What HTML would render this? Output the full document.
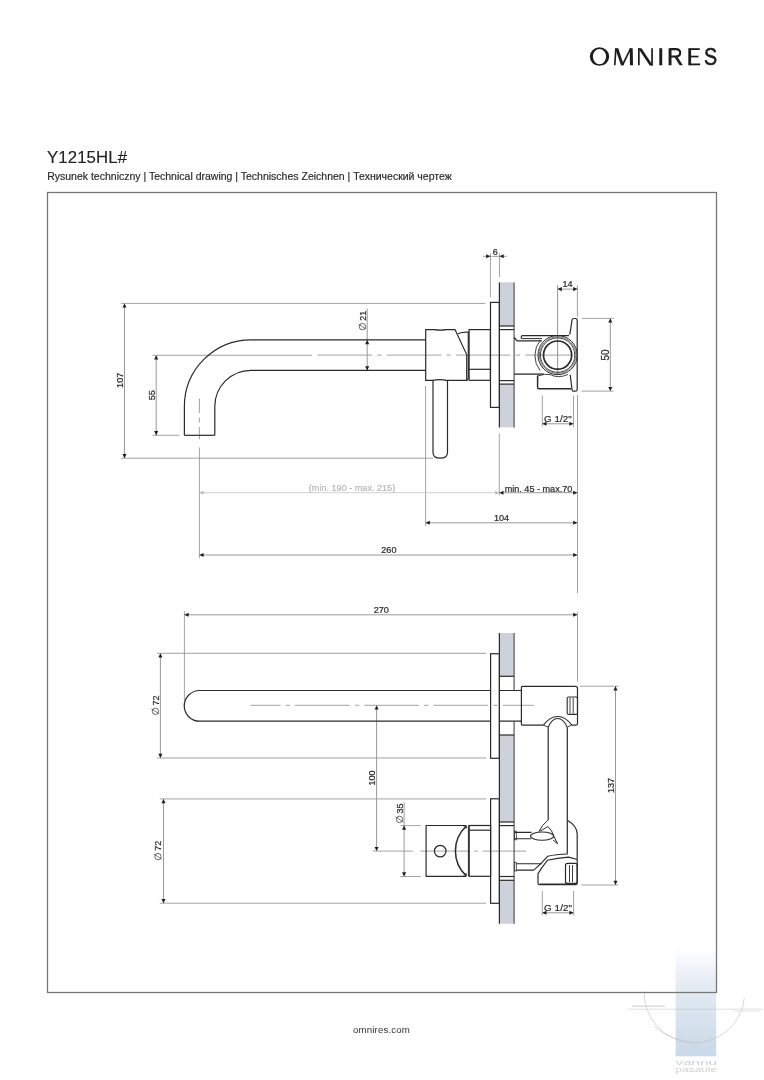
<!DOCTYPE html>
<html><head><meta charset="utf-8"><style>
html,body{margin:0;padding:0;background:#fff;}
body{width:764px;height:1080px;position:relative;overflow:hidden;font-family:"Liberation Sans", sans-serif;}
svg{position:absolute;left:0;top:0;will-change:transform;}
</style></head><body>
<svg width="764" height="1080" viewBox="0 0 764 1080" font-family='"Liberation Sans", sans-serif'>
<defs>
<linearGradient id="wm" x1="0" y1="0" x2="0" y2="1">
<stop offset="0" stop-color="#ffffff"/><stop offset="0.3" stop-color="#e6edf4"/><stop offset="1" stop-color="#c8d8e7"/>
</linearGradient>
</defs>
<!-- watermark -->
<rect x="675.6" y="948" width="40.6" height="108.3" fill="url(#wm)"/>
<path d="M644.1,991.3 A50.3,50.3 0 0 0 744.4,997.9" fill="none" stroke="#bdbdbd" stroke-width="0.6"/>
<path d="M653.9,1026.2 Q672,1042 700,1043" fill="none" stroke="#c4c4c4" stroke-width="0.6"/>
<line x1="627.5" y1="1009.2" x2="763" y2="1009.2" stroke="#c8c8c8" stroke-width="0.6"/>
<line x1="632" y1="1006.1" x2="665" y2="1006.1" stroke="#c4c4c4" stroke-width="0.9"/>
<line x1="733" y1="1011.1" x2="760" y2="1011.1" stroke="#cfcfcf" stroke-width="0.6"/>
<text x="675.6" y="1065" font-size="6.8" fill="#d0d0d0" textLength="41.4" lengthAdjust="spacingAndGlyphs">vannu</text>
<text x="675.6" y="1071.6" font-size="7.6" fill="#d0d0d0" textLength="41.4" lengthAdjust="spacingAndGlyphs">pasaule</text>
<!-- header -->
<g fill="#1c1c1c">
<path fill-rule="evenodd" d="M589.8,56.6 A9.7,9.25 0 1 0 609.2,56.6 A9.7,9.25 0 1 0 589.8,56.6 Z M592.9,56.6 A6.6,7.7 0 1 1 606.1,56.6 A6.6,7.7 0 1 1 592.9,56.6 Z"/>
<polygon points="613.9,65.3 615.6,65.3 616.7,48.3 615.1,48.3"/>
<polygon points="615.1,48.3 618.3,48.3 623.8,65.3 621,65.3"/>
<polygon points="621.4,65.3 623.4,65.3 631.6,48.3 629.9,48.3"/>
<polygon points="629.7,48.3 632.7,48.3 633,65.3 630,65.3"/>
<polygon points="638,48.3 639.7,48.3 639.7,65.3 638,65.3"/>
<polygon points="638.2,48.3 641.5,48.3 652.9,65.4 649.7,65.4"/>
<polygon points="651.2,48.3 652.9,48.3 652.9,65.4 651.2,65.4"/>
<rect x="659.3" y="48.2" width="2.9" height="17.1"/>
<rect x="668.6" y="48.2" width="2.9" height="17.1"/>
<polygon points="674,56.3 677.1,56.3 682.8,65.3 679.6,65.3"/>
<rect x="688.3" y="48.2" width="2.8" height="17.1"/>
<rect x="690.6" y="48.2" width="9.2" height="1.8"/>
<rect x="690.6" y="55.7" width="7.9" height="1.7"/>
<rect x="690.6" y="63.5" width="9.6" height="1.8"/>
</g>
<path d="M671,49.1 H675.6 Q680.2,49.1 680.2,52.75 Q680.2,56.5 675.6,56.5 H671" fill="none" stroke="#1c1c1c" stroke-width="2.1"/>
<text x="0" y="0" font-size="24.6" fill="#1c1c1c" stroke="#1c1c1c" stroke-width="0.6" transform="translate(703.9 65.4) scale(0.8 1)">S</text>
<text x="47" y="162.7" font-size="16.8" fill="#222" letter-spacing="0.1" stroke="#222" stroke-width="0.15">Y1215HL#</text>
<text x="47.2" y="179.6" font-size="10.5" fill="#2a2a2a" stroke="#2a2a2a" stroke-width="0.18">Rysunek techniczny | Technical drawing | Technisches Zeichnen | Технический чертеж</text>
<rect x="47.5" y="192.5" width="669" height="800" fill="none" stroke="#777" stroke-width="1.3"/>
<text x="381.5" y="1033.1" font-size="9.7" fill="#333" text-anchor="middle" letter-spacing="0.12">omnires.com</text>
<line x1="121" y1="303.4" x2="485.4" y2="303.4" stroke="#8c8c8c" stroke-width="0.8"/>
<line x1="121" y1="458.2" x2="433" y2="458.2" stroke="#8c8c8c" stroke-width="0.8"/>
<line x1="152.4" y1="355.3" x2="312" y2="355.3" stroke="#8c8c8c" stroke-width="0.8"/>
<line x1="152.6" y1="435.3" x2="179.5" y2="435.3" stroke="#8c8c8c" stroke-width="0.8"/>
<line x1="425.6" y1="386" x2="425.6" y2="526" stroke="#8c8c8c" stroke-width="0.8"/>
<line x1="199.4" y1="447.4" x2="199.4" y2="558.2" stroke="#8c8c8c" stroke-width="0.8"/>
<line x1="499.3" y1="433.4" x2="499.3" y2="495.3" stroke="#8c8c8c" stroke-width="0.8"/>
<line x1="577.5" y1="395" x2="577.5" y2="593" stroke="#8c8c8c" stroke-width="0.8"/>
<line x1="577.5" y1="611.9" x2="577.5" y2="681.8" stroke="#8c8c8c" stroke-width="0.8"/>
<line x1="490.4" y1="253.4" x2="490.4" y2="297.3" stroke="#8c8c8c" stroke-width="0.8"/>
<line x1="499.5" y1="253.4" x2="499.5" y2="276.9" stroke="#8c8c8c" stroke-width="0.8"/>
<line x1="557.6" y1="285.1" x2="557.6" y2="374.7" stroke="#777" stroke-width="0.8"/>
<line x1="577.4" y1="285.1" x2="577.4" y2="316.5" stroke="#8c8c8c" stroke-width="0.8"/>
<line x1="581.8" y1="318.4" x2="613.7" y2="318.4" stroke="#8c8c8c" stroke-width="0.8"/>
<line x1="581.5" y1="391.1" x2="613.7" y2="391.1" stroke="#8c8c8c" stroke-width="0.8"/>
<line x1="542.3" y1="395.5" x2="542.3" y2="426.8" stroke="#8c8c8c" stroke-width="0.8"/>
<line x1="573.5" y1="395.5" x2="573.5" y2="426.8" stroke="#8c8c8c" stroke-width="0.8"/>
<line x1="317.6" y1="355.1" x2="571" y2="355.1" stroke="#8a8a8a" stroke-width="0.8" stroke-dasharray="54.5 5.2 4.3 5.2"/>
<line x1="199.4" y1="398.5" x2="199.4" y2="439.3" stroke="#8a8a8a" stroke-width="0.8" stroke-dasharray="14.5 4.8 4.8 4.4 12.3"/>
<line x1="124.5" y1="303.4" x2="124.5" y2="458.2" stroke="#999999" stroke-width="1.0"/>
<polygon points="124.5,303.4 122.45,307.6 126.55,307.6" fill="#1e1e1e"/>
<polygon points="124.5,458.2 122.45,454 126.55,454" fill="#1e1e1e"/>
<line x1="156.2" y1="355.3" x2="156.2" y2="435.3" stroke="#999999" stroke-width="1.0"/>
<polygon points="156.2,355.3 154.15,359.5 158.25,359.5" fill="#1e1e1e"/>
<polygon points="156.2,435.3 154.15,431.1 158.25,431.1" fill="#1e1e1e"/>
<line x1="367.2" y1="308.8" x2="367.2" y2="370.4" stroke="#999999" stroke-width="1.0"/>
<polygon points="367.2,340 365.15,344.2 369.25,344.2" fill="#1e1e1e"/>
<polygon points="367.2,370.4 365.15,366.2 369.25,366.2" fill="#1e1e1e"/>
<line x1="483" y1="256.3" x2="506.6" y2="256.3" stroke="#999999" stroke-width="1.0"/>
<polygon points="490.4,256.3 486.2,254.25 486.2,258.35" fill="#1e1e1e"/>
<polygon points="499.5,256.3 503.7,254.25 503.7,258.35" fill="#1e1e1e"/>
<line x1="557.6" y1="289.1" x2="577.4" y2="289.1" stroke="#999999" stroke-width="1.0"/>
<polygon points="557.6,289.1 561.8,287.05 561.8,291.15" fill="#1e1e1e"/>
<polygon points="577.4,289.1 573.2,287.05 573.2,291.15" fill="#1e1e1e"/>
<line x1="610.3" y1="318.4" x2="610.3" y2="391.1" stroke="#999999" stroke-width="1.0"/>
<polygon points="610.3,318.4 608.25,322.6 612.35,322.6" fill="#1e1e1e"/>
<polygon points="610.3,391.1 608.25,386.9 612.35,386.9" fill="#1e1e1e"/>
<line x1="542.3" y1="423.8" x2="573.5" y2="423.8" stroke="#999999" stroke-width="1.0"/>
<polygon points="542.3,423.8 546.5,421.75 546.5,425.85" fill="#1e1e1e"/>
<polygon points="573.5,423.8 569.3,421.75 569.3,425.85" fill="#1e1e1e"/>
<line x1="499.3" y1="492.7" x2="577.4" y2="492.7" stroke="#999999" stroke-width="1.0"/>
<polygon points="499.3,492.7 503.5,490.65 503.5,494.75" fill="#1e1e1e"/>
<polygon points="577.4,492.7 573.2,490.65 573.2,494.75" fill="#1e1e1e"/>
<line x1="199.4" y1="492.7" x2="499.3" y2="492.7" stroke="#c4c4c4" stroke-width="0.8"/>
<polygon points="199.4,492.7 203.6,490.65 203.6,494.75" fill="#bdbdbd"/>
<polygon points="499.3,492.7 495.1,490.65 495.1,494.75" fill="#bdbdbd"/>
<line x1="425.6" y1="522.8" x2="577.4" y2="522.8" stroke="#999999" stroke-width="1.0"/>
<polygon points="425.6,522.8 429.8,520.75 429.8,524.85" fill="#1e1e1e"/>
<polygon points="577.4,522.8 573.2,520.75 573.2,524.85" fill="#1e1e1e"/>
<line x1="199.4" y1="555" x2="577.4" y2="555" stroke="#999999" stroke-width="1.0"/>
<polygon points="199.4,555 203.6,552.95 203.6,557.05" fill="#1e1e1e"/>
<polygon points="577.4,555 573.2,552.95 573.2,557.05" fill="#1e1e1e"/>
<text x="123" y="380.3" font-size="9.1" fill="#2a2a2a" stroke="#2a2a2a" stroke-width="0.22" text-anchor="middle" transform="rotate(-90 123 380.3)">107</text>
<text x="154.8" y="395.2" font-size="9.1" fill="#2a2a2a" stroke="#2a2a2a" stroke-width="0.22" text-anchor="middle" transform="rotate(-90 154.8 395.2)">55</text>
<g transform="translate(365.7 330) rotate(-90)"><ellipse cx="3.4" cy="-3.3" rx="3.2" ry="3.15" fill="none" stroke="#2a2a2a" stroke-width="0.7"/><line x1="0.9" y1="0.4" x2="5.9" y2="-7.4" stroke="#2a2a2a" stroke-width="0.6"/><text x="9.2" y="0" font-size="9.1" fill="#2a2a2a" stroke="#2a2a2a" stroke-width="0.22">21</text></g>
<text x="495.3" y="254.9" font-size="9.1" fill="#2a2a2a" stroke="#2a2a2a" stroke-width="0.22" text-anchor="middle">6</text>
<text x="567.6" y="287.2" font-size="9.1" fill="#2a2a2a" stroke="#2a2a2a" stroke-width="0.22" text-anchor="middle">14</text>
<text x="609.3" y="355" font-size="10" fill="#2a2a2a" stroke="#2a2a2a" stroke-width="0.22" text-anchor="middle" transform="rotate(-90 609.3 355)">50</text>
<text x="557.9" y="422" font-size="9.8" fill="#2a2a2a" stroke="#2a2a2a" stroke-width="0.22" text-anchor="middle" letter-spacing="0.1">G 1/2"</text>
<text x="538.5" y="491.5" font-size="9.1" fill="#2a2a2a" stroke="#2a2a2a" stroke-width="0.22" text-anchor="middle">min. 45 - max.70</text>
<text x="352" y="491" font-size="9.1" fill="#b8b8b8" stroke="#b8b8b8" stroke-width="0.22" text-anchor="middle">(min. 190 - max. 215)</text>
<text x="501.5" y="521" font-size="9.1" fill="#2a2a2a" stroke="#2a2a2a" stroke-width="0.22" text-anchor="middle">104</text>
<text x="388.9" y="553.2" font-size="9.1" fill="#2a2a2a" stroke="#2a2a2a" stroke-width="0.22" text-anchor="middle">260</text>
<path d="M184.4,435.3 V406.6 A66.6,66.6 0 0 1 251,339.8 H425.7" stroke="#2a2a2a" stroke-width="1.2" fill="none"/>
<path d="M214.8,435.3 V406.6 A36.2,36.2 0 0 1 251,370.3 H425.7" stroke="#2a2a2a" stroke-width="1.2" fill="none"/>
<path d="M184.4,435.3 H214.8" stroke="#2a2a2a" stroke-width="1.2" fill="none"/>
<path d="M425.7,329.6 H434.5 Q440,330.6 446,329.6 H455 L466.7,354.6 V380.3 H446.7 Q439.5,378.8 432.6,380.3 H425.7 Z" stroke="#2a2a2a" stroke-width="1.2" fill="none"/>
<path d="M457.7,333.7 Q462,332 468.3,332.2 V378.5 L466.7,380.3" stroke="#2a2a2a" stroke-width="1.2" fill="none"/>
<rect x="469.1" y="329.6" width="21.3" height="50.7" stroke="#2a2a2a" stroke-width="1.2" fill="none"/>
<line x1="469.1" y1="369.3" x2="490.4" y2="369.3" stroke="#2a2a2a" stroke-width="1.2"/>
<rect x="490.5" y="302.4" width="8.9" height="105" stroke="#2a2a2a" stroke-width="1.2" fill="none"/>
<rect x="499.4" y="282.4" width="14.7" height="43.6" fill="#cdd1da"/>
<rect x="499.4" y="384.1" width="14.7" height="43.3" fill="#cdd1da"/>
<line x1="499.4" y1="282.4" x2="499.4" y2="427.4" stroke="#2a2a2a" stroke-width="1.2"/>
<line x1="514.1" y1="282.4" x2="514.1" y2="427.4" stroke="#555" stroke-width="1.2"/>
<line x1="499.4" y1="326" x2="514.1" y2="326" stroke="#2a2a2a" stroke-width="1.2"/>
<line x1="499.4" y1="329.6" x2="514.1" y2="329.6" stroke="#2a2a2a" stroke-width="1.2"/>
<line x1="499.4" y1="380.6" x2="514.1" y2="380.6" stroke="#2a2a2a" stroke-width="1.2"/>
<line x1="499.4" y1="384.1" x2="514.1" y2="384.1" stroke="#2a2a2a" stroke-width="1.2"/>
<path d="M433,380.3 V452.5 Q433,458.2 440.2,458.2 Q447.5,458.2 447.5,452.5 V380.3" stroke="#2a2a2a" stroke-width="1.2" fill="none"/>
<path d="M514.1,337.4 L517.2,340.9 H541.9" stroke="#2a2a2a" stroke-width="1.4" fill="none"/>
<path d="M521.3,338.6 V336.8 Q521.3,335.6 522.6,335.6 H569" stroke="#2a2a2a" stroke-width="1.2" fill="none"/>
<line x1="521.3" y1="338.6" x2="541.9" y2="338.6" stroke="#2a2a2a" stroke-width="1.0"/>
<path d="M514.1,374.1 H543.9" stroke="#2a2a2a" stroke-width="1.3" fill="none"/>
<path d="M537.6,375.5 V387.5 Q537.6,388.8 539,388.8 H571.3" stroke="#2a2a2a" stroke-width="1.5" fill="none"/>
<path d="M537.6,376 Q545,373.5 550,374.5 Q558,378.8 568,374.5" stroke="#2a2a2a" stroke-width="0.9" fill="none"/>
<circle cx="557.6" cy="355.1" r="19.6" fill="none" stroke="#2a2a2a" stroke-width="1.0"/>
<circle cx="557.6" cy="355.1" r="18.3" fill="none" stroke="#2a2a2a" stroke-width="0.6"/>
<circle cx="557.6" cy="355.1" r="17.2" fill="none" stroke="#2a2a2a" stroke-width="0.9"/>
<circle cx="557.6" cy="355.1" r="14.1" fill="none" stroke="#2a2a2a" stroke-width="1.7"/>
<path d="M540.5,340 A24.4,24.4 0 0 0 540,370.5" stroke="#2a2a2a" stroke-width="0.9" fill="none"/>
<path d="M572.1,319.7 Q572.4,318.5 574,318.5 H575.5 Q577.2,318.5 577.2,320.5 V389.4 Q577.2,391.2 575.5,391.2 H573.5 Q572.1,391.2 572.1,390 L570.2,374.7 M569.8,334.6 L572.1,319.7" stroke="#2a2a2a" stroke-width="1.2" fill="none"/>
<line x1="184.4" y1="611.2" x2="184.4" y2="700" stroke="#8c8c8c" stroke-width="0.8"/>
<line x1="157" y1="653.3" x2="486.3" y2="653.3" stroke="#8c8c8c" stroke-width="0.8"/>
<line x1="157" y1="758" x2="486.3" y2="758" stroke="#8c8c8c" stroke-width="0.8"/>
<line x1="159.8" y1="798.9" x2="486.2" y2="798.9" stroke="#8c8c8c" stroke-width="0.8"/>
<line x1="159.8" y1="903.2" x2="486" y2="903.2" stroke="#8c8c8c" stroke-width="0.8"/>
<line x1="400.5" y1="825.6" x2="420.9" y2="825.6" stroke="#8c8c8c" stroke-width="0.8"/>
<line x1="400.5" y1="876.5" x2="420.9" y2="876.5" stroke="#8c8c8c" stroke-width="0.8"/>
<line x1="580" y1="686.2" x2="618.4" y2="686.2" stroke="#8c8c8c" stroke-width="0.8"/>
<line x1="581.5" y1="885" x2="618.4" y2="885" stroke="#8c8c8c" stroke-width="0.8"/>
<line x1="542.3" y1="890.8" x2="542.3" y2="915.4" stroke="#8c8c8c" stroke-width="0.8"/>
<line x1="573.6" y1="890.8" x2="573.6" y2="915.4" stroke="#8c8c8c" stroke-width="0.8"/>
<line x1="184.4" y1="614.8" x2="577.4" y2="614.8" stroke="#999999" stroke-width="1.0"/>
<polygon points="184.4,614.8 188.6,612.75 188.6,616.85" fill="#1e1e1e"/>
<polygon points="577.4,614.8 573.2,612.75 573.2,616.85" fill="#1e1e1e"/>
<line x1="160.4" y1="653.3" x2="160.4" y2="758" stroke="#999999" stroke-width="1.0"/>
<polygon points="160.4,653.3 158.35,657.5 162.45,657.5" fill="#1e1e1e"/>
<polygon points="160.4,758 158.35,753.8 162.45,753.8" fill="#1e1e1e"/>
<line x1="163.5" y1="799" x2="163.5" y2="903.2" stroke="#999999" stroke-width="1.0"/>
<polygon points="163.5,799 161.45,803.2 165.55,803.2" fill="#1e1e1e"/>
<polygon points="163.5,903.2 161.45,899 165.55,899" fill="#1e1e1e"/>
<line x1="376.6" y1="705.4" x2="376.6" y2="851.1" stroke="#999999" stroke-width="1.0"/>
<polygon points="376.6,705.4 374.55,709.6 378.65,709.6" fill="#1e1e1e"/>
<polygon points="376.6,851.1 374.55,846.9 378.65,846.9" fill="#1e1e1e"/>
<line x1="404.1" y1="802.4" x2="404.1" y2="876.5" stroke="#999999" stroke-width="1.0"/>
<polygon points="404.1,825.6 402.05,829.8 406.15,829.8" fill="#1e1e1e"/>
<polygon points="404.1,876.5 402.05,872.3 406.15,872.3" fill="#1e1e1e"/>
<line x1="615.5" y1="686.2" x2="615.5" y2="885" stroke="#999999" stroke-width="1.0"/>
<polygon points="615.5,686.2 613.45,690.4 617.55,690.4" fill="#1e1e1e"/>
<polygon points="615.5,885 613.45,880.8 617.55,880.8" fill="#1e1e1e"/>
<line x1="542.3" y1="912.8" x2="573.6" y2="912.8" stroke="#999999" stroke-width="1.0"/>
<polygon points="542.3,912.8 546.5,910.75 546.5,914.85" fill="#1e1e1e"/>
<polygon points="573.6,912.8 569.4,910.75 569.4,914.85" fill="#1e1e1e"/>
<text x="381.3" y="613" font-size="9.1" fill="#2a2a2a" stroke="#2a2a2a" stroke-width="0.22" text-anchor="middle">270</text>
<g transform="translate(158.7 714.7) rotate(-90)"><ellipse cx="3.4" cy="-3.3" rx="3.2" ry="3.15" fill="none" stroke="#2a2a2a" stroke-width="0.7"/><line x1="0.9" y1="0.4" x2="5.9" y2="-7.4" stroke="#2a2a2a" stroke-width="0.6"/><text x="9.2" y="0" font-size="9.1" fill="#2a2a2a" stroke="#2a2a2a" stroke-width="0.22">72</text></g>
<g transform="translate(161.3 860) rotate(-90)"><ellipse cx="3.4" cy="-3.3" rx="3.2" ry="3.15" fill="none" stroke="#2a2a2a" stroke-width="0.7"/><line x1="0.9" y1="0.4" x2="5.9" y2="-7.4" stroke="#2a2a2a" stroke-width="0.6"/><text x="9.2" y="0" font-size="9.1" fill="#2a2a2a" stroke="#2a2a2a" stroke-width="0.22">72</text></g>
<text x="374.8" y="778" font-size="9.1" fill="#2a2a2a" stroke="#2a2a2a" stroke-width="0.22" text-anchor="middle" transform="rotate(-90 374.8 778)">100</text>
<g transform="translate(402.8 822.8) rotate(-90)"><ellipse cx="3.4" cy="-3.3" rx="3.2" ry="3.15" fill="none" stroke="#2a2a2a" stroke-width="0.7"/><line x1="0.9" y1="0.4" x2="5.9" y2="-7.4" stroke="#2a2a2a" stroke-width="0.6"/><text x="9.2" y="0" font-size="9.1" fill="#2a2a2a" stroke="#2a2a2a" stroke-width="0.22">35</text></g>
<text x="614" y="785.5" font-size="9.1" fill="#2a2a2a" stroke="#2a2a2a" stroke-width="0.22" text-anchor="middle" transform="rotate(-90 614 785.5)">137</text>
<text x="558.1" y="911.4" font-size="9.8" fill="#2a2a2a" stroke="#2a2a2a" stroke-width="0.22" text-anchor="middle" letter-spacing="0.1">G 1/2"</text>
<line x1="250.5" y1="705.3" x2="534" y2="705.3" stroke="#8a8a8a" stroke-width="0.8" stroke-dasharray="54.5 5.2 4.3 5.2" stroke-dashoffset="24.5"/>
<line x1="372.8" y1="851.1" x2="526.3" y2="851.1" stroke="#8a8a8a" stroke-width="0.8" stroke-dasharray="40 7.4 49.4 4.5 4 4.5 48"/>
<path d="M490.6,690.5 H199.6 A15.35,15.35 0 0 0 199.6,721.2 H490.6" stroke="#2a2a2a" stroke-width="1.2" fill="none"/>
<path d="M499.4,690.5 H521.4 M499.4,721.2 H521.4" stroke="#2a2a2a" stroke-width="1.2" fill="none"/>
<rect x="490.6" y="653.7" width="8.8" height="104.6" stroke="#2a2a2a" stroke-width="1.2" fill="none"/>
<rect x="490.6" y="798.8" width="8.8" height="104.5" stroke="#2a2a2a" stroke-width="1.2" fill="none"/>
<rect x="499.4" y="633" width="14.7" height="43.3" fill="#cdd1da"/>
<rect x="499.4" y="735" width="14.7" height="87" fill="#cdd1da"/>
<rect x="499.4" y="880.3" width="14.7" height="43.4" fill="#cdd1da"/>
<line x1="499.4" y1="633" x2="499.4" y2="923.7" stroke="#2a2a2a" stroke-width="1.2"/>
<line x1="514.1" y1="633" x2="514.1" y2="690.5" stroke="#555" stroke-width="1.2"/>
<line x1="514.1" y1="721.2" x2="514.1" y2="923.7" stroke="#555" stroke-width="1.2"/>
<line x1="499.4" y1="676.3" x2="514.1" y2="676.3" stroke="#2a2a2a" stroke-width="1.2"/>
<line x1="499.4" y1="735" x2="514.1" y2="735" stroke="#2a2a2a" stroke-width="1.2"/>
<line x1="499.4" y1="822" x2="514.1" y2="822" stroke="#2a2a2a" stroke-width="1.2"/>
<line x1="499.4" y1="825.6" x2="514.1" y2="825.6" stroke="#2a2a2a" stroke-width="1.2"/>
<line x1="499.4" y1="876.5" x2="514.1" y2="876.5" stroke="#2a2a2a" stroke-width="1.2"/>
<line x1="499.4" y1="880.3" x2="514.1" y2="880.3" stroke="#2a2a2a" stroke-width="1.2"/>
<path d="M543.4,725.1 H522.4 Q521.4,725.1 521.4,724 V687.4 Q521.4,686.4 522.4,686.4 H575.5 Q577.5,686.4 577.5,688.4 V723.6 Q577.5,725.1 576,725.1 H571.8" stroke="#2a2a2a" stroke-width="1.2" fill="none"/>
<path d="M543.4,725.1 Q550,716.5 557.6,716.5 Q565.4,716.5 571.8,725.1" stroke="#2a2a2a" stroke-width="1.1" fill="none"/>
<path d="M548.2,727.2 Q552,718.5 557.6,718.5 Q563.4,718.5 567.2,727.2" stroke="#2a2a2a" stroke-width="1.1" fill="none"/>
<path d="M543.4,725.1 L548.2,727.2 M571.8,725.1 L567.2,727.2" stroke="#2a2a2a" stroke-width="0.9" fill="none"/>
<line x1="548.2" y1="727.2" x2="548.2" y2="820.2" stroke="#2a2a2a" stroke-width="1.2"/>
<line x1="567.3" y1="727.2" x2="567.3" y2="853.8" stroke="#2a2a2a" stroke-width="1.2"/>
<rect x="567.2" y="697" width="10.3" height="17.4" stroke="#2a2a2a" stroke-width="1.1" fill="none" rx="1.5"/>
<line x1="570" y1="698" x2="570" y2="713.5" stroke="#2a2a2a" stroke-width="0.9"/>
<line x1="573.2" y1="698" x2="573.2" y2="713.5" stroke="#2a2a2a" stroke-width="0.9"/>
<path d="M567.3,820.2 Q577.2,826 577.2,834 V883 Q577.2,884.6 575.6,884.6 H539.6 Q538,884.6 538,883 V873.6" stroke="#2a2a2a" stroke-width="1.2" fill="none"/>
<line x1="540" y1="884.2" x2="576" y2="884.2" stroke="#2a2a2a" stroke-width="1.6"/>
<path d="M534,869.8 Q541,864 547.6,856.3 Q556,854.2 567.8,854" stroke="#2a2a2a" stroke-width="1.1" fill="none"/>
<path d="M538,873.6 Q542,867 547.4,860.3 Q557,857.8 568.6,857.1 L577.2,859.5" stroke="#2a2a2a" stroke-width="1.1" fill="none"/>
<path d="M514.1,863.8 H541.5 M514.1,870.1 H534" stroke="#2a2a2a" stroke-width="1.1" fill="none"/>
<rect x="514.4" y="862.3" width="1.9" height="8.7" fill="#fff"/>
<rect x="514.4" y="862.3" width="1.9" height="8.7" stroke="#2a2a2a" stroke-width="0.8" fill="none"/>
<rect x="565.5" y="863.4" width="11.7" height="20" stroke="#2a2a2a" stroke-width="1.2" fill="none" rx="2"/>
<line x1="569.5" y1="865" x2="569.5" y2="882" stroke="#2a2a2a" stroke-width="0.9"/>
<line x1="572.5" y1="865" x2="572.5" y2="882" stroke="#2a2a2a" stroke-width="0.9"/>
<path d="M514.1,832.4 H531.5 M514.1,838.7 H531" stroke="#2a2a2a" stroke-width="1.1" fill="none"/>
<rect x="514.4" y="831.1" width="1.9" height="8.7" stroke="#2a2a2a" stroke-width="0.8" fill="none"/>
<ellipse cx="542.1" cy="836.1" rx="11.6" ry="4.1" fill="none" stroke="#2a2a2a" stroke-width="1.1"/>
<path d="M547.9,820.2 Q542,825 539.1,831.2 M547.9,826.5 Q552,830 554.1,836.7 L557.6,843.8 L553,840 M539.6,831.3 Q544,829 547.9,826.5" stroke="#2a2a2a" stroke-width="1.0" fill="none"/>
<path d="M466.1,825.5 H426.1 V876.3 H466.1" stroke="#2a2a2a" stroke-width="1.2" fill="none"/>
<path d="M466.1,826.2 A33.9,33.9 0 0 0 466.1,875.6" stroke="#2a2a2a" stroke-width="1.5" fill="none"/>
<path d="M463.5,826.2 L466.3,828.3 V825.5 M463.5,875.6 L466.3,873.5 V876.3" stroke="#2a2a2a" stroke-width="0.9" fill="none"/>
<line x1="468.4" y1="825.5" x2="468.4" y2="876.3" stroke="#2a2a2a" stroke-width="1.0"/>
<rect x="469.2" y="825.5" width="21.4" height="50.8" stroke="#2a2a2a" stroke-width="1.2" fill="none"/>
<line x1="469.2" y1="830.2" x2="490.6" y2="830.2" stroke="#2a2a2a" stroke-width="1.2"/>
<circle cx="440.2" cy="851.1" r="5.8" fill="none" stroke="#2a2a2a" stroke-width="1.2"/>
</svg>
</body></html>
